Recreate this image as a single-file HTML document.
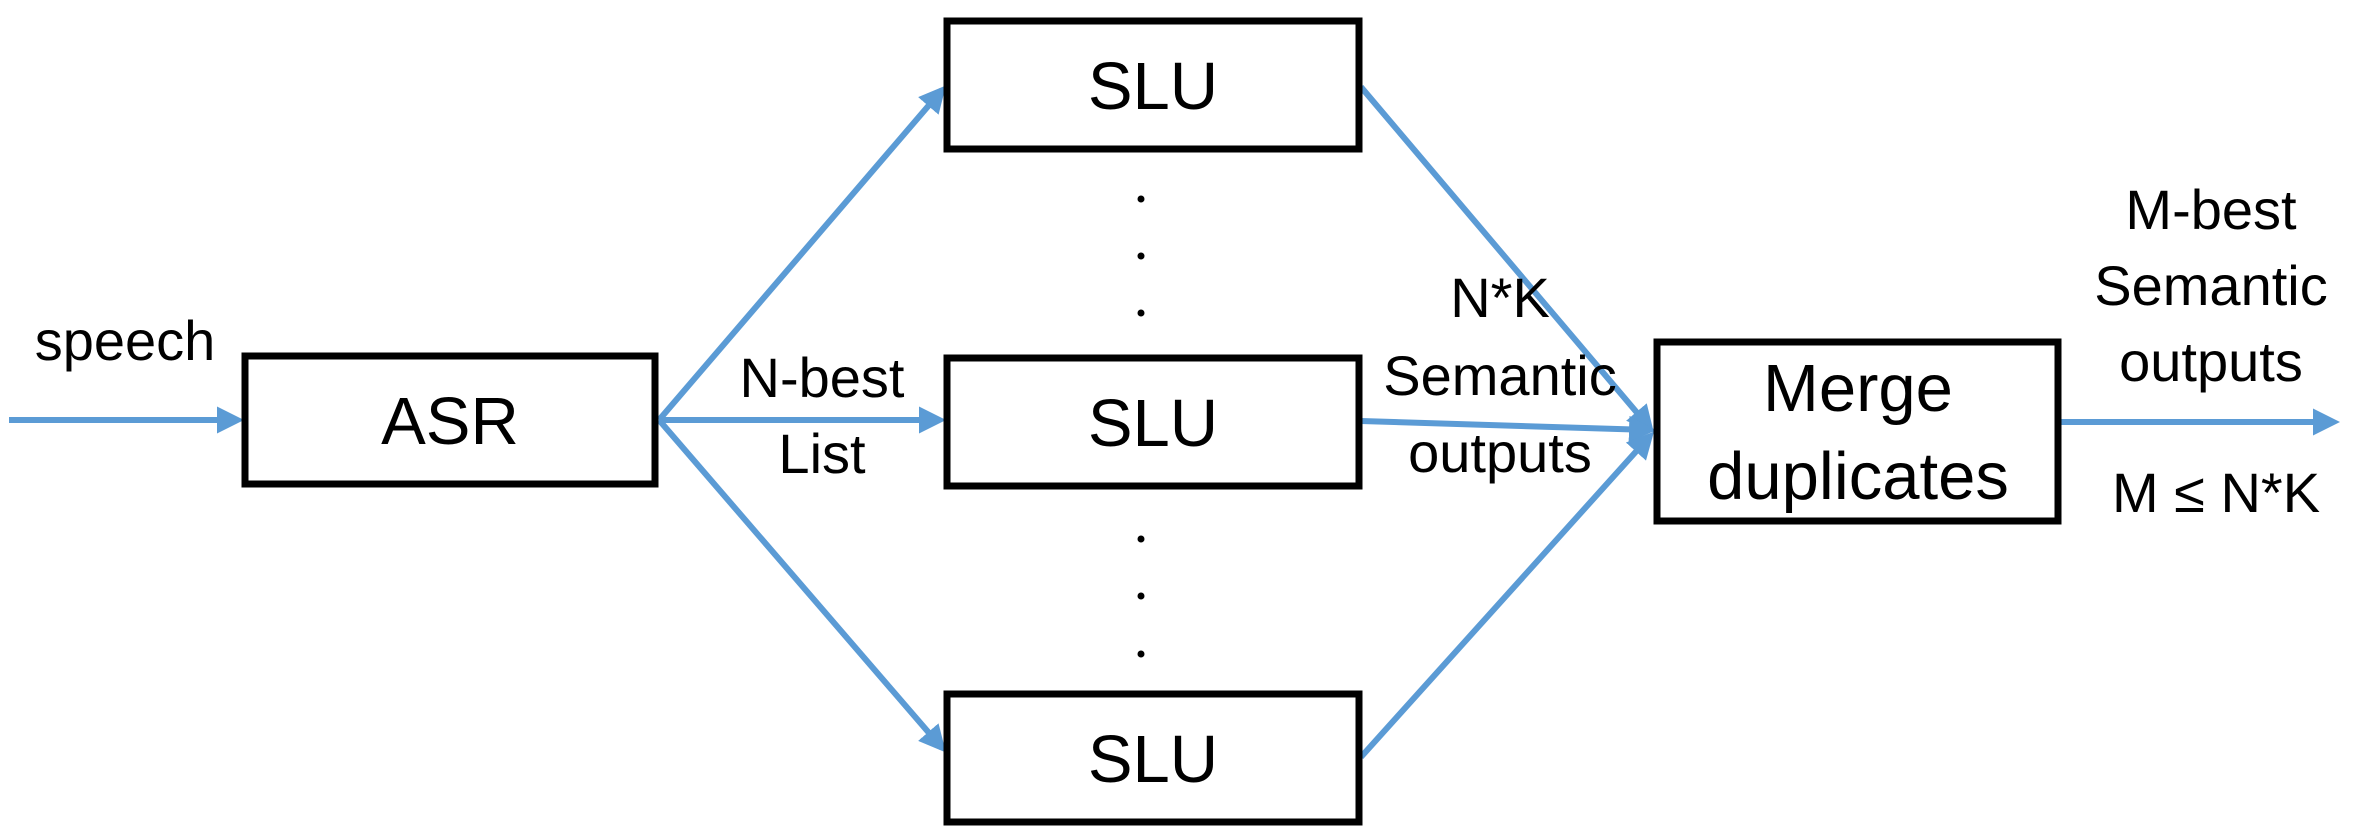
<!DOCTYPE html>
<html><head><meta charset="utf-8"><style>
html,body{margin:0;padding:0;background:#fff;}
svg{display:block;}
text{font-family:"Liberation Sans",sans-serif;fill:#000;}
</style></head><body>
<svg width="2362" height="832" viewBox="0 0 2362 832">
<defs>
<marker id="ah" markerWidth="4.5" markerHeight="4.5" refX="3.5" refY="2.25" orient="auto" markerUnits="strokeWidth">
<path d="M0,0 L4.5,2.25 L0,4.5 z" fill="#5B9BD5"/>
</marker>
</defs>
<g stroke="#5B9BD5" stroke-width="6" fill="none">
<line x1="9" y1="420" x2="238" y2="420" marker-end="url(#ah)"/>
<line x1="659" y1="420" x2="942" y2="90" marker-end="url(#ah)"/>
<line x1="659" y1="420" x2="940" y2="420" marker-end="url(#ah)"/>
<line x1="659" y1="420" x2="942" y2="748" marker-end="url(#ah)"/>
<line x1="1361" y1="87" x2="1650" y2="428" marker-end="url(#ah)"/>
<line x1="1361" y1="421" x2="1650" y2="430" marker-end="url(#ah)"/>
<line x1="1361" y1="757" x2="1650" y2="436" marker-end="url(#ah)"/>
<line x1="2060" y1="422" x2="2334" y2="422" marker-end="url(#ah)"/>
</g>
<g stroke="#000" stroke-width="7" fill="#fff">
<rect x="245" y="356" width="410" height="128"/>
<rect x="947" y="21" width="412" height="128"/>
<rect x="947" y="358" width="412" height="128"/>
<rect x="947" y="694" width="412" height="128"/>
<rect x="1657" y="342" width="401" height="179"/>
</g>
<g fill="#000">
<circle cx="1141" cy="199" r="3.5"/><circle cx="1141" cy="256" r="3.5"/><circle cx="1141" cy="313" r="3.5"/>
<circle cx="1141" cy="539" r="3.5"/><circle cx="1141" cy="596" r="3.5"/><circle cx="1141" cy="654" r="3.5"/>
</g>
<g text-anchor="middle" font-size="67">
<text x="450" y="444">ASR</text>
<text x="1153" y="109">SLU</text>
<text x="1153" y="446">SLU</text>
<text x="1153" y="782">SLU</text>
<text x="1858" y="411">Merge</text>
<text x="1858" y="499">duplicates</text>
</g>
<g text-anchor="middle" font-size="56">
<text x="125" y="360">speech</text>
<text x="822" y="397">N-best</text>
<text x="822" y="473">List</text>
<text x="1500" y="317">N*K</text>
<text x="1500" y="395">Semantic</text>
<text x="1500" y="472">outputs</text>
<text x="2211" y="229">M-best</text>
<text x="2211" y="305">Semantic</text>
<text x="2211" y="381">outputs</text>
<text x="2216" y="512">M ≤ N*K</text>
</g>
</svg>
</body></html>
